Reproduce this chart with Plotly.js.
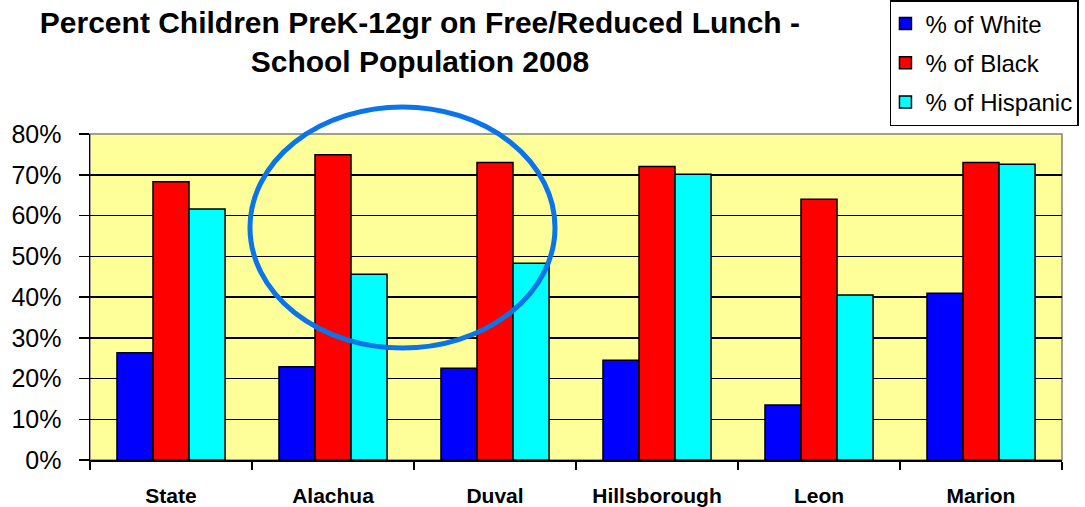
<!DOCTYPE html>
<html>
<head>
<meta charset="utf-8">
<script src="https://cdn.plot.ly/plotly-3.0.1.min.js"></script>
<style>html,body{margin:0;padding:0;background:#fff;}#chart{width:1085px;height:507px;}</style>
</head>
<body>
<div id="chart"></div>
<script>
const categories = ["State", "Alachua", "Duval", "Hillsborough", "Leon", "Marion"];
const white = [0.263, 0.229, 0.225, 0.245, 0.135, 0.409];
const black = [0.683, 0.749, 0.730, 0.720, 0.640, 0.730];
const hispanic = [0.616, 0.456, 0.483, 0.701, 0.405, 0.726];
const seriesNames = ["% of White", "% of Black", "% of Hispanic"];
const seriesColors = ["#0000FF", "#FF0000", "#00FFFF"];
const tickVals = [0, 0.1, 0.2, 0.3, 0.4, 0.5, 0.6, 0.7, 0.8];
const tickText = ["0%", "10%", "20%", "30%", "40%", "50%", "60%", "70%", "80%"];

const values = [white, black, hispanic];
const traces = values.map((v, i) => ({
  type: "bar",
  name: seriesNames[i],
  x: categories,
  y: v,
  legendgroup: "g" + i,
  marker: {color: seriesColors[i], line: {color: "#000", width: 1.5}},
  hoverinfo: "skip"
}));

const layout = {
  width: 1085, height: 507,
  margin: {l: 90, r: 23, t: 134, b: 47, autoexpand: false},
  paper_bgcolor: "#fff",
  plot_bgcolor: "#FFFF99",
  barmode: "group",
  bargap: 0.333,
  bargroupgap: 0,
  font: {family: "Liberation Sans, Arial, sans-serif", color: "#000"},
  title: {
    text: "Percent Children PreK-12gr on Free/Reduced Lunch -<br>School Population 2008",
    font: {size: 30, weight: "bold", color: "#000"},
    x: 0.387, xanchor: "center", xref: "container",
    y: 0.934, yanchor: "top", yref: "container"
  },
  xaxis: {
    type: "category",
    showline: true, linecolor: "#000", linewidth: 1.5,
    ticks: "outside", ticklen: 8, tickwidth: 1.5, tickcolor: "#000",
    tickson: "boundaries",
    ticklabelstandoff: 16,
    showgrid: false,
    tickfont: {size: 21, weight: "bold"},
    fixedrange: true
  },
  yaxis: {
    range: [0, 0.8],
    tickvals: tickVals, ticktext: tickText,
    showline: true, linecolor: "#000", linewidth: 1.5,
    ticks: "outside", ticklen: 10, tickwidth: 1.5, tickcolor: "#000",
    ticklabelstandoff: 12,
    showgrid: true, gridcolor: "#000", gridwidth: 1.5,
    zeroline: false,
    tickfont: {size: 25},
    fixedrange: true
  },
  showlegend: true,
  legend: {
    x: 0.823, xanchor: "left", y: 1.411, yanchor: "top",
    bgcolor: "#fff", bordercolor: "#000", borderwidth: 1.5,
    font: {size: 24},
    traceorder: "grouped", tracegroupgap: 5,
    indentation: -6,
    itemwidth: 30
  },
  shapes: [
    {type: "rect", xref: "paper", yref: "paper", x0: 0, x1: 1, y0: 0, y1: 1,
     line: {color: "#808080", width: 1.5}, layer: "below"},
    {type: "circle", xref: "paper", yref: "paper", x0: 0.1646, x1: 0.4784, y0: 0.3436, y1: 1.0828,
     line: {color: "#0A74E8", width: 5}, layer: "above"}
  ]
};

Plotly.newPlot("chart", traces, layout, {displayModeBar: false, staticPlot: true});
</script>
</body>
</html>
